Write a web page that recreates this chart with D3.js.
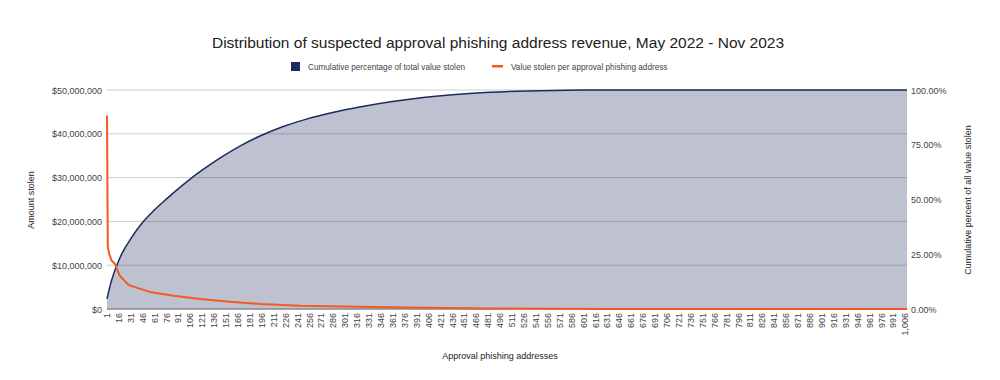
<!DOCTYPE html>
<html>
<head>
<meta charset="utf-8">
<script src="https://cdnjs.cloudflare.com/ajax/libs/d3/7.8.5/d3.min.js"></script>
<style>
  body { margin: 0; background: #fff; }
  svg { font-family: "Liberation Sans", Arial, sans-serif; }
</style>
</head>
<body>
<svg id="chart" width="1000" height="380"></svg>
<script>
// values
var addressCount = 1008;
var tickLabels = d3.range(1, 1007, 15);

// cumulative % of total value stolen (navy area)
var cumAddr = [1, 5, 9, 13, 20, 30, 46, 60, 76, 92, 108, 128, 148, 170, 195, 222, 252, 285, 319, 358, 399, 440, 483, 530, 580, 630, 1008];
var cumPct  = [4.6, 10.8, 15.6, 19.6, 25.5, 31.6, 39.6, 45, 50.3, 55.3, 60, 65.2, 70, 74.7, 79.2, 83.2, 86.7, 89.7, 92.2, 94.6, 96.6, 98, 99, 99.6, 99.9, 100, 100];

// value stolen per address, $ millions (orange line)
var valAddr = [1, 2, 4, 7, 11, 17, 28, 43, 57, 85, 118, 152, 194, 244, 319, 400, 485, 560, 640, 1008];
var valM    = [44.2, 14.3, 12.5, 11.0, 10.3, 7.6, 5.5, 4.6, 3.8, 3.0, 2.3, 1.7, 1.14, 0.76, 0.5, 0.3, 0.12, 0.05, 0.01, 0];

var leftTicks = [0, 10, 20, 30, 40, 50];
var rightTicks = [0, 25, 50, 75, 100];

var navy = "#1c2b5e", orange = "#f25a22";
var svg = d3.select("#chart");
var plotL = 107, plotR = 907, plotT = 90, plotB = 309;

var x = d3.scaleLinear().domain([1, addressCount]).range([plotL, plotR]);
var yL = d3.scaleLinear().domain([0, 50]).range([plotB, plotT]);
var yR = d3.scaleLinear().domain([0, 100]).range([plotB, plotT]).clamp(true);

// title + legend
svg.append("text").attr("x", 498).attr("y", 48).attr("text-anchor", "middle")
  .attr("font-size", 15.5).attr("fill", "#222")
  .text("Distribution of suspected approval phishing address revenue, May 2022 - Nov 2023");

var lg = svg.append("g").attr("font-size", 8.2).attr("fill", "#444");
lg.append("rect").attr("x", 291).attr("y", 62).attr("width", 9).attr("height", 9).attr("fill", navy);
lg.append("text").attr("x", 308).attr("y", 69.5).text("Cumulative percentage of total value stolen");
lg.append("rect").attr("x", 492).attr("y", 65).attr("width", 11).attr("height", 2.5).attr("fill", orange);
lg.append("text").attr("x", 511).attr("y", 69.5).text("Value stolen per approval phishing address");

// gridlines
svg.append("g").selectAll("line").data(leftTicks.slice(1)).join("line")
  .attr("x1", plotL).attr("x2", plotR)
  .attr("y1", function(d) { return yL(d); }).attr("y2", function(d) { return yL(d); })
  .attr("stroke", "#ccc").attr("stroke-width", 1);

// cumulative area + line
var cum = cumAddr.map(function(a, i) { return { a: a, v: cumPct[i] }; });
var smooth = d3.curveCatmullRom.alpha(0.5);
svg.append("path").datum(cum)
  .attr("d", d3.area().curve(smooth)
    .x(function(d) { return x(d.a); }).y0(plotB).y1(function(d) { return yR(d.v); }))
  .attr("fill", navy).attr("fill-opacity", 0.29);
svg.append("path").datum(cum)
  .attr("d", d3.line().curve(smooth)
    .x(function(d) { return x(d.a); }).y(function(d) { return yR(d.v); }))
  .attr("fill", "none").attr("stroke", navy).attr("stroke-width", 1.5);

// baseline
svg.append("line").attr("x1", plotL).attr("x2", plotR).attr("y1", plotB).attr("y2", plotB)
  .attr("stroke", "#888").attr("stroke-width", 1.5);

// per-address value line
var val = valAddr.map(function(a, i) { return { a: a, v: valM[i] }; });
svg.append("path").datum(val)
  .attr("d", d3.line().x(function(d) { return x(d.a); }).y(function(d) { return yL(d.v); }))
  .attr("fill", "none").attr("stroke", orange).attr("stroke-width", 2);

// left axis
svg.append("g").attr("font-size", 9).attr("fill", "#444")
  .selectAll("text").data(leftTicks).join("text")
  .attr("x", 102).attr("y", function(d) { return yL(d) + 3.5; })
  .attr("text-anchor", "end")
  .text(function(d) { return d === 0 ? "$0" : "$" + d3.format(",")(d * 1e6); });

// right axis
svg.append("g").attr("font-size", 9).attr("fill", "#444")
  .selectAll("text").data(rightTicks).join("text")
  .attr("x", 911).attr("y", function(d) { return yR(d) + 3.5; })
  .text(function(d) { return d.toFixed(2) + "%"; });

// x tick labels
svg.append("g").attr("font-size", 9).attr("fill", "#444")
  .selectAll("text").data(tickLabels).join("text")
  .attr("transform", function(d) { return "translate(" + (x(d) + 3) + "," + (plotB + 4) + ") rotate(-90)"; })
  .attr("text-anchor", "end")
  .text(function(d) { return d3.format(",")(d); });

// axis titles
svg.append("text").attr("transform", "translate(34,200) rotate(-90)").attr("text-anchor", "middle")
  .attr("font-size", 9).attr("fill", "#222").text("Amount stolen");
svg.append("text").attr("transform", "translate(971,200) rotate(-90)").attr("text-anchor", "middle")
  .attr("font-size", 9).attr("fill", "#222").text("Cumulative percent of all value stolen");
svg.append("text").attr("x", 500).attr("y", 359).attr("text-anchor", "middle")
  .attr("font-size", 9).attr("fill", "#222").text("Approval phishing addresses");
</script>
</body>
</html>
